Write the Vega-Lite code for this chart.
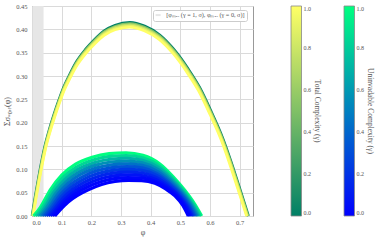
{
  "$schema": "https://vega.github.io/schema/vega-lite/v6.json",
  "width": 221,
  "height": 210,
  "autosize": "none",
  "padding": {"left": 32, "top": 6, "right": 128, "bottom": 25},
  "config": {
    "font": "Liberation Serif",
    "view": {"stroke": "#999999", "strokeWidth": 1},
    "axis": {"grid": true, "gridColor": "#dadada", "gridWidth": 1, "domain": false, "ticks": false, "labelFont": "Liberation Serif", "labelFontSize": 6.5, "labelColor": "#555555", "titleFont": "Liberation Serif", "titleFontWeight": "normal", "titleColor": "#555555", "titleFontSize": 8},
    "legend": {"labelFont": "Liberation Serif", "labelFontSize": 6, "labelColor": "#555555", "titleFont": "Liberation Serif", "titleFontSize": 7.5, "titleFontWeight": "normal", "titleColor": "#555555", "padding": 0, "gradientStrokeColor": "#888888", "gradientStrokeWidth": 0.8, "labelOffset": 3}
  },
  "datasets": {
    "band": [{"x": 0.003, "x2": 0.039, "lab": "[φₘₐₓ (γ = 1, σ), φₘₐₓ (γ = 0, σ)]"}],
    "up": [
      {"g":0,"x":0,"y":0},{"g":0,"x":0.01,"y":0.039},{"g":0,"x":0.021,"y":0.079},{"g":0,"x":0.032,"y":0.116},{"g":0,"x":0.044,"y":0.152},{"g":0,"x":0.058,"y":0.185},{"g":0,"x":0.074,"y":0.218},{"g":0,"x":0.09,"y":0.248},{"g":0,"x":0.105,"y":0.274},{"g":0,"x":0.125,"y":0.301},{"g":0,"x":0.15,"y":0.331},{"g":0,"x":0.18,"y":0.357},{"g":0,"x":0.21,"y":0.378},{"g":0,"x":0.243,"y":0.397},{"g":0,"x":0.28,"y":0.409},{"g":0,"x":0.33,"y":0.415},{"g":0,"x":0.38,"y":0.407},{"g":0,"x":0.431,"y":0.388},{"g":0,"x":0.48,"y":0.356},{"g":0,"x":0.527,"y":0.315},{"g":0,"x":0.565,"y":0.276},{"g":0,"x":0.605,"y":0.223},{"g":0,"x":0.642,"y":0.169},{"g":0,"x":0.671,"y":0.117},{"g":0,"x":0.7,"y":0.06},{"g":0,"x":0.73,"y":0},
      {"g":0.5,"x":0.001,"y":0},{"g":0.5,"x":0.011,"y":0.0388},{"g":0.5,"x":0.0219,"y":0.0785},{"g":0.5,"x":0.0329,"y":0.1153},{"g":0.5,"x":0.0448,"y":0.1511},{"g":0.5,"x":0.0588,"y":0.1838},{"g":0.5,"x":0.0747,"y":0.2166},{"g":0.5,"x":0.0907,"y":0.2465},{"g":0.5,"x":0.1056,"y":0.2723},{"g":0.5,"x":0.1255,"y":0.2991},{"g":0.5,"x":0.1504,"y":0.3289},{"g":0.5,"x":0.1803,"y":0.3548},{"g":0.5,"x":0.2102,"y":0.3756},{"g":0.5,"x":0.2431,"y":0.3945},{"g":0.5,"x":0.28,"y":0.4064},{"g":0.5,"x":0.3298,"y":0.4124},{"g":0.5,"x":0.3796,"y":0.4045},{"g":0.5,"x":0.4304,"y":0.3856},{"g":0.5,"x":0.4792,"y":0.3538},{"g":0.5,"x":0.526,"y":0.313},{"g":0.5,"x":0.5639,"y":0.2743},{"g":0.5,"x":0.6037,"y":0.2216},{"g":0.5,"x":0.6406,"y":0.1679},{"g":0.5,"x":0.6695,"y":0.1163},{"g":0.5,"x":0.6984,"y":0.0596},{"g":0.5,"x":0.7283,"y":0},
      {"g":0.75,"x":0.002,"y":0},{"g":0.75,"x":0.0119,"y":0.0385},{"g":0.75,"x":0.0228,"y":0.078},{"g":0.75,"x":0.0338,"y":0.1146},{"g":0.75,"x":0.0457,"y":0.1501},{"g":0.75,"x":0.0596,"y":0.1827},{"g":0.75,"x":0.0754,"y":0.2153},{"g":0.75,"x":0.0913,"y":0.2449},{"g":0.75,"x":0.1062,"y":0.2706},{"g":0.75,"x":0.1261,"y":0.2972},{"g":0.75,"x":0.1509,"y":0.3269},{"g":0.75,"x":0.1807,"y":0.3525},{"g":0.75,"x":0.2104,"y":0.3733},{"g":0.75,"x":0.2432,"y":0.392},{"g":0.75,"x":0.2799,"y":0.4039},{"g":0.75,"x":0.3295,"y":0.4098},{"g":0.75,"x":0.3792,"y":0.4019},{"g":0.75,"x":0.4298,"y":0.3832},{"g":0.75,"x":0.4784,"y":0.3516},{"g":0.75,"x":0.5251,"y":0.3111},{"g":0.75,"x":0.5628,"y":0.2726},{"g":0.75,"x":0.6025,"y":0.2202},{"g":0.75,"x":0.6392,"y":0.1669},{"g":0.75,"x":0.668,"y":0.1155},{"g":0.75,"x":0.6968,"y":0.0593},{"g":0.75,"x":0.7265,"y":0},
      {"g":0.9,"x":0.003,"y":0},{"g":0.9,"x":0.0129,"y":0.0383},{"g":0.9,"x":0.0238,"y":0.0775},{"g":0.9,"x":0.0346,"y":0.1138},{"g":0.9,"x":0.0465,"y":0.1492},{"g":0.9,"x":0.0603,"y":0.1815},{"g":0.9,"x":0.0762,"y":0.2139},{"g":0.9,"x":0.092,"y":0.2434},{"g":0.9,"x":0.1068,"y":0.2689},{"g":0.9,"x":0.1266,"y":0.2954},{"g":0.9,"x":0.1513,"y":0.3248},{"g":0.9,"x":0.181,"y":0.3503},{"g":0.9,"x":0.2106,"y":0.3709},{"g":0.9,"x":0.2433,"y":0.3896},{"g":0.9,"x":0.2799,"y":0.4013},{"g":0.9,"x":0.3293,"y":0.4072},{"g":0.9,"x":0.3787,"y":0.3994},{"g":0.9,"x":0.4292,"y":0.3807},{"g":0.9,"x":0.4776,"y":0.3493},{"g":0.9,"x":0.5241,"y":0.3091},{"g":0.9,"x":0.5616,"y":0.2708},{"g":0.9,"x":0.6012,"y":0.2188},{"g":0.9,"x":0.6378,"y":0.1658},{"g":0.9,"x":0.6665,"y":0.1148},{"g":0.9,"x":0.6951,"y":0.0589},{"g":0.9,"x":0.7248,"y":0},
      {"g":1,"x":0.004,"y":0},{"g":1,"x":0.0139,"y":0.038},{"g":1,"x":0.0247,"y":0.077},{"g":1,"x":0.0355,"y":0.1131},{"g":1,"x":0.0473,"y":0.1482},{"g":1,"x":0.0611,"y":0.1804},{"g":1,"x":0.0769,"y":0.2126},{"g":1,"x":0.0927,"y":0.2418},{"g":1,"x":0.1074,"y":0.2672},{"g":1,"x":0.1271,"y":0.2935},{"g":1,"x":0.1518,"y":0.3227},{"g":1,"x":0.1813,"y":0.3481},{"g":1,"x":0.2109,"y":0.3686},{"g":1,"x":0.2434,"y":0.3871},{"g":1,"x":0.2798,"y":0.3988},{"g":1,"x":0.329,"y":0.4046},{"g":1,"x":0.3783,"y":0.3968},{"g":1,"x":0.4285,"y":0.3783},{"g":1,"x":0.4768,"y":0.3471},{"g":1,"x":0.5231,"y":0.3071},{"g":1,"x":0.5605,"y":0.2691},{"g":1,"x":0.6,"y":0.2174},{"g":1,"x":0.6364,"y":0.1648},{"g":1,"x":0.6649,"y":0.1141},{"g":1,"x":0.6935,"y":0.0585},{"g":1,"x":0.7231,"y":0}
    ],
    "low": [
      {"d":"a","g":1,"x":0.005,"y":0},{"d":"a","g":1,"x":0.0277,"y":0.018},{"d":"a","g":1,"x":0.0617,"y":0.056},{"d":"a","g":1,"x":0.101,"y":0.088},{"d":"a","g":1,"x":0.147,"y":0.111},{"d":"a","g":1,"x":0.203,"y":0.126},{"d":"a","g":1,"x":0.26,"y":0.1335},{"d":"a","g":1,"x":0.317,"y":0.1355},{"d":"a","g":1,"x":0.374,"y":0.13},{"d":"a","g":1,"x":0.43,"y":0.112},{"d":"a","g":1,"x":0.476,"y":0.084},{"d":"a","g":1,"x":0.515,"y":0.055},{"d":"a","g":1,"x":0.549,"y":0.025},{"d":"a","g":1,"x":0.572,"y":0},
      {"d":"b","g":0.845,"x":0.0122,"y":0},{"d":"b","g":0.845,"x":0.0344,"y":0.0175},{"d":"b","g":0.845,"x":0.0677,"y":0.0534},{"d":"b","g":0.845,"x":0.1063,"y":0.0836},{"d":"b","g":0.845,"x":0.1513,"y":0.1055},{"d":"b","g":0.845,"x":0.2062,"y":0.1202},{"d":"b","g":0.845,"x":0.262,"y":0.1276},{"d":"b","g":0.845,"x":0.3178,"y":0.1296},{"d":"b","g":0.845,"x":0.3736,"y":0.1246},{"d":"b","g":0.845,"x":0.4285,"y":0.1078},{"d":"b","g":0.845,"x":0.4735,"y":0.0814},{"d":"b","g":0.845,"x":0.5117,"y":0.0538},{"d":"b","g":0.845,"x":0.545,"y":0.0247},{"d":"b","g":0.845,"x":0.5675,"y":0},
      {"d":"c","g":0.7,"x":0.0194,"y":0},{"d":"c","g":0.7,"x":0.0412,"y":0.017},{"d":"c","g":0.7,"x":0.0738,"y":0.0508},{"d":"c","g":0.7,"x":0.1115,"y":0.0792},{"d":"c","g":0.7,"x":0.1555,"y":0.1},{"d":"c","g":0.7,"x":0.2093,"y":0.1143},{"d":"c","g":0.7,"x":0.2639,"y":0.1216},{"d":"c","g":0.7,"x":0.3185,"y":0.1237},{"d":"c","g":0.7,"x":0.3731,"y":0.1192},{"d":"c","g":0.7,"x":0.4269,"y":0.1036},{"d":"c","g":0.7,"x":0.4709,"y":0.0788},{"d":"c","g":0.7,"x":0.5084,"y":0.0526},{"d":"c","g":0.7,"x":0.541,"y":0.0244},{"d":"c","g":0.7,"x":0.563,"y":0},
      {"d":"d","g":0.565,"x":0.0266,"y":0},{"d":"d","g":0.565,"x":0.0479,"y":0.0165},{"d":"d","g":0.565,"x":0.0798,"y":0.0482},{"d":"d","g":0.565,"x":0.1168,"y":0.0748},{"d":"d","g":0.565,"x":0.1598,"y":0.0945},{"d":"d","g":0.565,"x":0.2125,"y":0.1085},{"d":"d","g":0.565,"x":0.2659,"y":0.1157},{"d":"d","g":0.565,"x":0.3193,"y":0.1178},{"d":"d","g":0.565,"x":0.3727,"y":0.1138},{"d":"d","g":0.565,"x":0.4254,"y":0.0994},{"d":"d","g":0.565,"x":0.4684,"y":0.0762},{"d":"d","g":0.565,"x":0.5051,"y":0.0514},{"d":"d","g":0.565,"x":0.537,"y":0.0241},{"d":"d","g":0.565,"x":0.5585,"y":0},
      {"d":"e","g":0.442,"x":0.0338,"y":0},{"d":"e","g":0.442,"x":0.0546,"y":0.016},{"d":"e","g":0.442,"x":0.0858,"y":0.0456},{"d":"e","g":0.442,"x":0.122,"y":0.0704},{"d":"e","g":0.442,"x":0.164,"y":0.089},{"d":"e","g":0.442,"x":0.2156,"y":0.1026},{"d":"e","g":0.442,"x":0.2678,"y":0.1097},{"d":"e","g":0.442,"x":0.32,"y":0.1119},{"d":"e","g":0.442,"x":0.3722,"y":0.1084},{"d":"e","g":0.442,"x":0.4238,"y":0.0952},{"d":"e","g":0.442,"x":0.4658,"y":0.0736},{"d":"e","g":0.442,"x":0.5018,"y":0.0502},{"d":"e","g":0.442,"x":0.533,"y":0.0238},{"d":"e","g":0.442,"x":0.554,"y":0},
      {"d":"f","g":0.33,"x":0.041,"y":0},{"d":"f","g":0.33,"x":0.0614,"y":0.0155},{"d":"f","g":0.33,"x":0.0919,"y":0.043},{"d":"f","g":0.33,"x":0.1273,"y":0.066},{"d":"f","g":0.33,"x":0.1683,"y":0.0835},{"d":"f","g":0.33,"x":0.2188,"y":0.0968},{"d":"f","g":0.33,"x":0.2698,"y":0.1038},{"d":"f","g":0.33,"x":0.3208,"y":0.106},{"d":"f","g":0.33,"x":0.3718,"y":0.103},{"d":"f","g":0.33,"x":0.4223,"y":0.091},{"d":"f","g":0.33,"x":0.4633,"y":0.071},{"d":"f","g":0.33,"x":0.4985,"y":0.049},{"d":"f","g":0.33,"x":0.529,"y":0.0235},{"d":"f","g":0.33,"x":0.5495,"y":0},
      {"d":"g","g":0.231,"x":0.0482,"y":0},{"d":"g","g":0.231,"x":0.0681,"y":0.015},{"d":"g","g":0.231,"x":0.0979,"y":0.0404},{"d":"g","g":0.231,"x":0.1325,"y":0.0616},{"d":"g","g":0.231,"x":0.1725,"y":0.078},{"d":"g","g":0.231,"x":0.2219,"y":0.0909},{"d":"g","g":0.231,"x":0.2717,"y":0.0978},{"d":"g","g":0.231,"x":0.3215,"y":0.1001},{"d":"g","g":0.231,"x":0.3713,"y":0.0976},{"d":"g","g":0.231,"x":0.4207,"y":0.0868},{"d":"g","g":0.231,"x":0.4607,"y":0.0684},{"d":"g","g":0.231,"x":0.4952,"y":0.0478},{"d":"g","g":0.231,"x":0.525,"y":0.0232},{"d":"g","g":0.231,"x":0.545,"y":0},
      {"d":"h","g":0.146,"x":0.0554,"y":0},{"d":"h","g":0.146,"x":0.0748,"y":0.0145},{"d":"h","g":0.146,"x":0.1039,"y":0.0378},{"d":"h","g":0.146,"x":0.1378,"y":0.0572},{"d":"h","g":0.146,"x":0.1768,"y":0.0725},{"d":"h","g":0.146,"x":0.2251,"y":0.0851},{"d":"h","g":0.146,"x":0.2737,"y":0.0919},{"d":"h","g":0.146,"x":0.3223,"y":0.0942},{"d":"h","g":0.146,"x":0.3709,"y":0.0922},{"d":"h","g":0.146,"x":0.4192,"y":0.0826},{"d":"h","g":0.146,"x":0.4582,"y":0.0658},{"d":"h","g":0.146,"x":0.4919,"y":0.0466},{"d":"h","g":0.146,"x":0.521,"y":0.0229},{"d":"h","g":0.146,"x":0.5405,"y":0},
      {"d":"i","g":0.076,"x":0.0626,"y":0},{"d":"i","g":0.076,"x":0.0815,"y":0.014},{"d":"i","g":0.076,"x":0.1099,"y":0.0352},{"d":"i","g":0.076,"x":0.143,"y":0.0528},{"d":"i","g":0.076,"x":0.181,"y":0.067},{"d":"i","g":0.076,"x":0.2282,"y":0.0792},{"d":"i","g":0.076,"x":0.2756,"y":0.0859},{"d":"i","g":0.076,"x":0.323,"y":0.0883},{"d":"i","g":0.076,"x":0.3704,"y":0.0868},{"d":"i","g":0.076,"x":0.4176,"y":0.0784},{"d":"i","g":0.076,"x":0.4556,"y":0.0632},{"d":"i","g":0.076,"x":0.4886,"y":0.0454},{"d":"i","g":0.076,"x":0.517,"y":0.0226},{"d":"i","g":0.076,"x":0.536,"y":0},
      {"d":"j","g":0.025,"x":0.0698,"y":0},{"d":"j","g":0.025,"x":0.0883,"y":0.0135},{"d":"j","g":0.025,"x":0.116,"y":0.0326},{"d":"j","g":0.025,"x":0.1483,"y":0.0484},{"d":"j","g":0.025,"x":0.1853,"y":0.0615},{"d":"j","g":0.025,"x":0.2314,"y":0.0734},{"d":"j","g":0.025,"x":0.2776,"y":0.08},{"d":"j","g":0.025,"x":0.3238,"y":0.0824},{"d":"j","g":0.025,"x":0.37,"y":0.0814},{"d":"j","g":0.025,"x":0.4161,"y":0.0742},{"d":"j","g":0.025,"x":0.4531,"y":0.0606},{"d":"j","g":0.025,"x":0.4853,"y":0.0442},{"d":"j","g":0.025,"x":0.513,"y":0.0223},{"d":"j","g":0.025,"x":0.5315,"y":0},
      {"d":"k","g":0,"x":0.077,"y":0},{"d":"k","g":0,"x":0.095,"y":0.013},{"d":"k","g":0,"x":0.122,"y":0.030},{"d":"k","g":0,"x":0.1535,"y":0.044},{"d":"k","g":0,"x":0.1895,"y":0.056},{"d":"k","g":0,"x":0.2345,"y":0.0675},{"d":"k","g":0,"x":0.2795,"y":0.074},{"d":"k","g":0,"x":0.3245,"y":0.0765},{"d":"k","g":0,"x":0.3695,"y":0.076},{"d":"k","g":0,"x":0.4145,"y":0.070},{"d":"k","g":0,"x":0.4505,"y":0.058},{"d":"k","g":0,"x":0.482,"y":0.043},{"d":"k","g":0,"x":0.509,"y":0.022},{"d":"k","g":0,"x":0.527,"y":0}
    ]
  },
  "encoding": {
    "x": {"field": "x", "type": "quantitative", "scale": {"domain": [0, 0.745], "nice": false, "zero": false}, "axis": {"values": [0, 0.1, 0.2, 0.3, 0.4, 0.5, 0.6, 0.7], "format": ".1f", "title": "φ", "labelPadding": 3, "titlePadding": 3}}
  },
  "layer": [
    {
      "data": {"name": "band"},
      "mark": {"type": "rect", "opacity": 1},
      "encoding": {
        "x2": {"field": "x2"},
        "fill": {"field": "lab", "type": "nominal", "scale": {"range": ["#e6e6e6"]}, "legend": {"orient": "none", "legendX": 121, "legendY": 4, "title": null, "strokeColor": "#cccccc", "fillColor": "#ffffff", "padding": 2, "cornerRadius": 2, "symbolType": "M-1,-0.4L1,-0.4L1,0.4L-1,0.4Z", "symbolSize": 25, "symbolStrokeWidth": 0, "labelFontSize": 6.2, "labelOffset": 5, "labelLimit": 200}}
      }
    },
    {
      "data": {"name": "up"},
      "mark": {"type": "line", "strokeWidth": 2.6, "interpolate": "monotone"},
      "encoding": {
        "y": {"field": "y", "type": "quantitative", "scale": {"domain": [0, 0.45], "nice": false}, "axis": {"values": [0, 0.05, 0.1, 0.15, 0.2, 0.25, 0.3, 0.35, 0.4, 0.45], "format": ".2f", "title": "Σσ₌₀,ᵧ(φ)", "labelPadding": 5, "titlePadding": 4}},
        "detail": {"field": "g"},
        "color": {"field": "g", "type": "quantitative", "scale": {"domain": [0, 1], "range": ["#008066", "#ffff66"], "interpolate": "rgb"}, "legend": {"orient": "none", "legendX": 259, "legendY": 0, "direction": "vertical", "gradientLength": 210, "gradientThickness": 10.5, "values": [0, 0.2, 0.4, 0.6, 0.8, 1], "format": ".1f", "title": "Total Complexity (γ)", "titleOrient": "right", "titleAngle": 270, "titleAnchor": "middle", "titlePadding": 2}}
      }
    },
    {
      "data": {"name": "low"},
      "mark": {"type": "line", "strokeWidth": 3.2, "interpolate": "monotone"},
      "encoding": {
        "y": {"field": "y", "type": "quantitative", "scale": {"domain": [0, 0.45], "nice": false}, "axis": {"values": [0, 0.05, 0.1, 0.15, 0.2, 0.25, 0.3, 0.35, 0.4, 0.45], "format": ".2f", "title": "Σσ₌₀,ᵧ(φ)", "labelPadding": 5, "titlePadding": 4}},
        "detail": {"field": "d"},
        "color": {"field": "g", "type": "quantitative", "scale": {"domain": [0, 1], "range": ["#0000ff", "#00ff80"], "interpolate": "rgb"}, "legend": {"orient": "none", "legendX": 312, "legendY": 0, "direction": "vertical", "gradientLength": 210, "gradientThickness": 10.5, "values": [0, 0.2, 0.4, 0.6, 0.8, 1], "format": ".1f", "title": "Uninvadable Complexity (γ)", "titleOrient": "right", "titleAngle": 270, "titleAnchor": "middle", "titlePadding": 2}}
      }
    }
  ],
  "resolve": {"scale": {"color": "independent"}, "legend": {"color": "independent"}}
}
